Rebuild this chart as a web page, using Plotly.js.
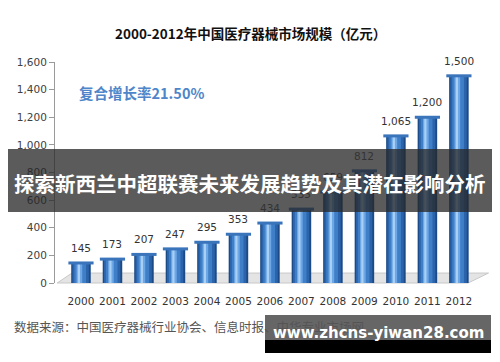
<!DOCTYPE html>
<html><head><meta charset="utf-8">
<script src="https://cdn.plot.ly/plotly-3.0.1.min.js"></script>
<style>html,body{margin:0;padding:0;background:#fff;}#chart{width:500px;height:362px;}</style>
</head><body><div id="chart"></div>
<script>
const years = [2000,2001,2002,2003,2004,2005,2006,2007,2008,2009,2010,2011,2012];
const values = [145,173,207,247,295,353,434,535,659,812,1065,1200,1500];
const yTicks = [0,200,400,600,800,1000,1200,1400,1600];
const titleText = '2000-2012年中国医疗器械市场规模（亿元）';
const growthText = '复合增长率21.50%';
const sourceText = '数据来源：中国医疗器械行业协会、信息时报、中华专业市场网';
const bannerText = '探索新西兰中超联赛未来发展趋势及其潜在影响分析';
const watermarkText = 'www.zhcns-yiwan28.com';

const layers = [
  {w:0.62, off:-0.31, c:'#1c4a86'},
  {w:0.52, off:-0.27, c:'#2b64ab'},
  {w:0.37, off:-0.21, c:'#3f7fc8'},
  {w:0.18, off:-0.14, c:'#6ea7e6'},
  {w:0.07, off:-0.10, c:'#a9cff5'}
];
const traces = layers.map(L => ({
  type:'bar', x:years, y:values, width:L.w, offset:L.off,
  marker:{color:L.c, line:{width:0}}, hoverinfo:'skip', showlegend:false
}));
// top caps
traces.push({
  type:'scatter', mode:'markers', x:years, y:values,
  marker:{symbol:'line-ew', size:18, line:{width:3, color:'#3a74ba'}},
  hoverinfo:'skip', showlegend:false
});

const py = p => (283 - p) / 221;
const px = p => (p - 55) / 425;

const valueLabels = years.map((yr, i) => ({
  x: yr, y: values[i], xref:'x', yref:'y', xanchor:'center', yanchor:'bottom', yshift:7,
  text: values[i].toLocaleString('en-US'), showarrow:false,
  font:{family:'DejaVu Sans', size:10.5, color:'#333'}
}));

const layout = {
  width:500, height:362,
  margin:{l:55, r:20, t:62, b:79},
  paper_bgcolor:'#fff', plot_bgcolor:'rgba(0,0,0,0)',
  barmode:'overlay',
  showlegend:false,
  xaxis:{type:'linear', range:[1999.175, 2012.67], tickvals:years, ticktext:years.map(String),
    showgrid:false, zeroline:false, showline:false, ticks:'',
    tickfont:{family:'DejaVu Sans', size:10.5, color:'#333'}, ticklabelstandoff:10},
  yaxis:{range:[0,1600], tickvals:yTicks, tickformat:',d', showgrid:false, zeroline:false,
    showline:true, linecolor:'#9a9a9a', linewidth:1, ticks:'outside', ticklen:5, tickcolor:'#9a9a9a',
    tickfont:{family:'DejaVu Sans', size:10.5, color:'#404040'}},
  shapes:[
    {type:'path', xref:'paper', yref:'paper', layer:'below',
     path:'M 0.005 0 L 0.972 0 L 1.02 0.045 L 0.04 0.045 Z',
     fillcolor:'#e4e4e4', line:{color:'#c8c8c8', width:1}},
    {type:'rect', xref:'paper', yref:'paper', x0:px(8), x1:px(492), y0:py(212), y1:py(149), layer:'above',
     fillcolor:'rgba(40,40,40,0.76)', line:{width:0}},
    {type:'rect', xref:'paper', yref:'paper', x0:px(265), x1:px(491), y0:py(340), y1:py(315), layer:'above',
     fillcolor:'rgba(0,0,0,0.6)', line:{width:0}},
    {type:'rect', xref:'paper', yref:'paper', x0:px(265), x1:px(491), y0:py(353), y1:py(340), layer:'above',
     fillcolor:'#000', line:{width:0}}
  ],
  annotations: valueLabels.concat([
    {text:'<b>'+titleText+'</b>', xref:'paper', yref:'paper', x:px(250), xanchor:'center', y:py(33), yanchor:'middle',
     showarrow:false, font:{family:'Noto Sans CJK SC', size:13.5, color:'#111'}},
    {text:'<b>'+growthText+'</b>', xref:'paper', yref:'paper', x:px(77), xanchor:'left', y:py(92), yanchor:'middle',
     showarrow:false, font:{family:'Noto Sans CJK SC', size:14.5, color:'#4f86c9'}},
    {text:sourceText, xref:'paper', yref:'paper', x:px(12), xanchor:'left', y:py(326), yanchor:'middle',
     showarrow:false, font:{family:'Noto Sans CJK SC', size:12.5, color:'#555'}},
    {text:'<b>'+bannerText+'</b>', xref:'paper', yref:'paper', x:px(250), xanchor:'center', y:py(183), yanchor:'middle',
     showarrow:false, font:{family:'Noto Sans CJK SC', size:20.5, color:'#fff'}},
    {text:'<b>'+watermarkText+'</b>', xref:'paper', yref:'paper', x:px(378), xanchor:'center', y:py(333), yanchor:'middle',
     showarrow:false, font:{family:'DejaVu Sans', size:15, color:'#fff'}}
  ])
};
Plotly.newPlot('chart', traces, layout, {displayModeBar:false, staticPlot:true});
</script></body></html>
